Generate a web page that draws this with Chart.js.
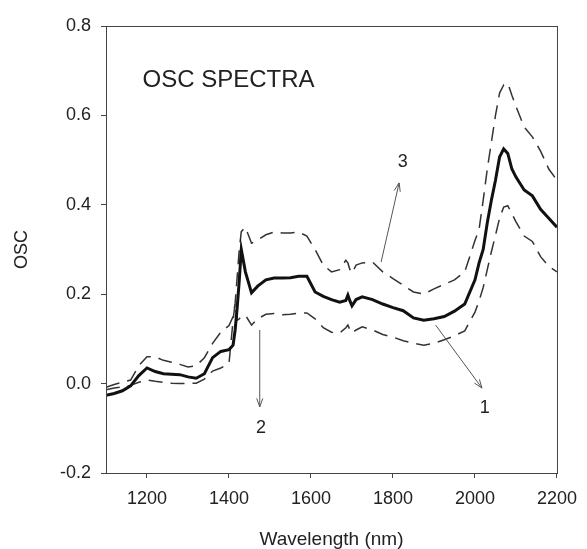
<!DOCTYPE html>
<html>
<head>
<meta charset="utf-8">
<title>OSC spectra</title>
<script src="https://cdn.jsdelivr.net/npm/chart.js@4.4.1/dist/chart.umd.min.js"></script>
<style>
    html, body { margin: 0; padding: 0; background: #fff; }
    #wrap { width: 587px; height: 549px; }
</style>
</head>
<body>
<div id="wrap"><canvas id="oscChart" width="587" height="549"></canvas></div>
<script>
// wavelength grid (nm) shared by the three curves
const wavelengths = [
    1100, 1120, 1140, 1160, 1180, 1200, 1220, 1240, 1260, 1280, 1300, 1320, 1340, 1360, 1380,
    1400, 1410, 1415, 1420, 1425, 1430, 1440, 1455, 1470, 1490, 1510, 1530, 1550, 1570, 1590,
    1610, 1630, 1650, 1670, 1685, 1690, 1695, 1700, 1710, 1725, 1750, 1775, 1800, 1825, 1850,
    1875, 1900, 1925, 1950, 1975, 2000, 2010, 2020, 2030, 2040, 2050, 2060, 2070, 2080, 2090,
    2100, 2120, 2140, 2160, 2180, 2200
];

// curve 1 - the thick solid one
const oscMain = [
    -0.026, -0.022, -0.016, -0.005, 0.018, 0.035, 0.027, 0.022, 0.021, 0.020, 0.015, 0.012, 0.022, 0.058, 0.072,
    0.076, 0.086, 0.120, 0.170, 0.230, 0.300, 0.250, 0.203, 0.218, 0.232, 0.236, 0.236, 0.237, 0.240, 0.240,
    0.205, 0.195, 0.188, 0.182, 0.186, 0.198, 0.185, 0.174, 0.188, 0.194, 0.188, 0.178, 0.170, 0.163, 0.147,
    0.142, 0.145, 0.150, 0.162, 0.178, 0.232, 0.270, 0.300, 0.360, 0.410, 0.455, 0.507, 0.525, 0.515, 0.480,
    0.462, 0.433, 0.420, 0.390, 0.370, 0.350
];

// curve 3 - upper dashed
const oscUpper = [
    -0.008, -0.002, 0.003, 0.008, 0.040, 0.060, 0.060, 0.052, 0.048, 0.043, 0.037, 0.040, 0.058, 0.090, 0.115,
    0.130, 0.150, 0.180, 0.240, 0.300, 0.340, 0.350, 0.314, 0.321, 0.333, 0.339, 0.337, 0.337, 0.339, 0.330,
    0.300, 0.265, 0.250, 0.255, 0.276, 0.270, 0.255, 0.247, 0.265, 0.270, 0.272, 0.250, 0.235, 0.220, 0.205,
    0.200, 0.212, 0.222, 0.232, 0.250, 0.320, 0.345, 0.410, 0.480, 0.540, 0.600, 0.650, 0.668, 0.672, 0.645,
    0.620, 0.574, 0.552, 0.520, 0.480, 0.455
];

// curve 2 - lower dashed
const oscLower = [
    -0.014, -0.010, -0.007, -0.004, 0.003, 0.008, 0.005, 0.003, 0.001, 0.000, 0.000, 0.001, 0.010, 0.028, 0.035,
    0.045, 0.142, 0.180, 0.142, 0.145, 0.149, 0.153, 0.131, 0.145, 0.155, 0.157, 0.154, 0.155, 0.158, 0.158,
    0.145, 0.125, 0.115, 0.113, 0.125, 0.131, 0.120, 0.113, 0.120, 0.127, 0.120, 0.110, 0.104, 0.096, 0.090,
    0.086, 0.090, 0.098, 0.107, 0.118, 0.160, 0.185, 0.215, 0.255, 0.295, 0.332, 0.370, 0.395, 0.398, 0.380,
    0.362, 0.330, 0.318, 0.284, 0.262, 0.250
];

const xTicks = [1200, 1400, 1600, 1800, 2000, 2200];
const yTicks = [-0.2, 0.0, 0.2, 0.4, 0.6, 0.8];

// text + arrows drawn on top, positions given in data units
const plotTitle = "OSC SPECTRA";
const arrows = [
    {label: "1", from: [1904, 0.131], to: [2017, -0.010], text: [2024, -0.055]},
    {label: "2", from: [1475, 0.120], to: [1475, -0.052], text: [1478, -0.099]},
    {label: "3", from: [1771, 0.272], to: [1815, 0.449], text: [1824, 0.496]}
];

const toPoints = ys => ys.map((y, i) => ({x: wavelengths[i], y: y}));

const FONT = "'Liberation Sans', Arial, sans-serif";
const INK = "#222";

const annotationPlugin = {
    id: 'oscAnnotations',
    afterDraw(chart) {
        const {ctx, chartArea, scales} = chart;
        const px = v => scales.x.getPixelForValue(v);
        const py = v => scales.y.getPixelForValue(v);

        ctx.save();
        // box round the plot
        ctx.strokeStyle = "#444";
        ctx.lineWidth = 1;
        ctx.strokeRect(chartArea.left + 0.5, chartArea.top + 0.5,
            chartArea.right - chartArea.left, chartArea.bottom - chartArea.top);

        // title inside the plot
        ctx.fillStyle = INK;
        ctx.font = "24px " + FONT;
        ctx.textBaseline = "middle";
        ctx.textAlign = "left";
        ctx.fillText(plotTitle, px(1189), py(0.679));

        // arrows with open heads
        ctx.font = "18px " + FONT;
        ctx.textAlign = "center";
        arrows.forEach(a => {
            const x0 = px(a.from[0]), y0 = py(a.from[1]);
            const x1 = px(a.to[0]), y1 = py(a.to[1]);
            const ang = Math.atan2(y1 - y0, x1 - x0);
            ctx.strokeStyle = "#555";
            ctx.lineWidth = 1;
            ctx.beginPath();
            ctx.moveTo(x0, y0);
            ctx.lineTo(x1, y1);
            ctx.moveTo(x1 - 9 * Math.cos(ang - 0.35), y1 - 9 * Math.sin(ang - 0.35));
            ctx.lineTo(x1, y1);
            ctx.lineTo(x1 - 9 * Math.cos(ang + 0.35), y1 - 9 * Math.sin(ang + 0.35));
            ctx.stroke();
            ctx.fillText(a.label, px(a.text[0]), py(a.text[1]));
        });
        ctx.restore();
    }
};

new Chart(document.getElementById('oscChart').getContext('2d'), {
    type: 'line',
    data: {
        datasets: [
            {
                label: '1',
                data: toPoints(oscMain),
                borderColor: "#111",
                borderWidth: 3,
                pointRadius: 0,
                tension: 0
            },
            {
                label: '3',
                data: toPoints(oscUpper),
                borderColor: "#333",
                borderWidth: 1.5,
                borderDash: [14, 8],
                pointRadius: 0,
                tension: 0
            },
            {
                label: '2',
                data: toPoints(oscLower),
                borderColor: "#333",
                borderWidth: 1.5,
                borderDash: [14, 8],
                pointRadius: 0,
                tension: 0
            }
        ]
    },
    options: {
        responsive: false,
        animation: false,
        layout: { padding: { left: 0, top: 26, right: 24, bottom: 0 } },
        plugins: {
            legend: { display: false },
            tooltip: { enabled: false }
        },
        scales: {
            x: {
                type: 'linear',
                min: 1100,
                max: 2200,
                afterBuildTicks: s => { s.ticks = xTicks.map(v => ({value: v})); },
                afterFit: s => { s.height = 76; },
                grid: { drawOnChartArea: false, tickLength: 5, color: "#444" },
                border: { color: "#444" },
                ticks: {
                    color: INK,
                    font: { family: FONT, size: 18 },
                    padding: 10,
                    maxRotation: 0,
                    callback: v => String(v)
                },
                title: {
                    display: true,
                    text: 'Wavelength (nm)',
                    color: INK,
                    font: { family: FONT, size: 19, lineHeight: 1 },
                    padding: { top: 0, bottom: 0 }
                }
            },
            y: {
                min: -0.2,
                max: 0.8,
                afterBuildTicks: s => { s.ticks = yTicks.map(v => ({value: v})); },
                afterFit: s => { s.width = 106; },
                grid: { drawOnChartArea: false, tickLength: 5, color: "#444" },
                border: { color: "#444" },
                ticks: {
                    color: INK,
                    font: { family: FONT, size: 18 },
                    padding: 10,
                    callback: v => v.toFixed(1)
                },
                title: {
                    display: true,
                    text: 'OSC',
                    color: INK,
                    font: { family: FONT, size: 18, lineHeight: 1 },
                    padding: { top: 13, bottom: 0 }
                }
            }
        }
    },
    plugins: [annotationPlugin]
});
</script>
</body>
</html>
